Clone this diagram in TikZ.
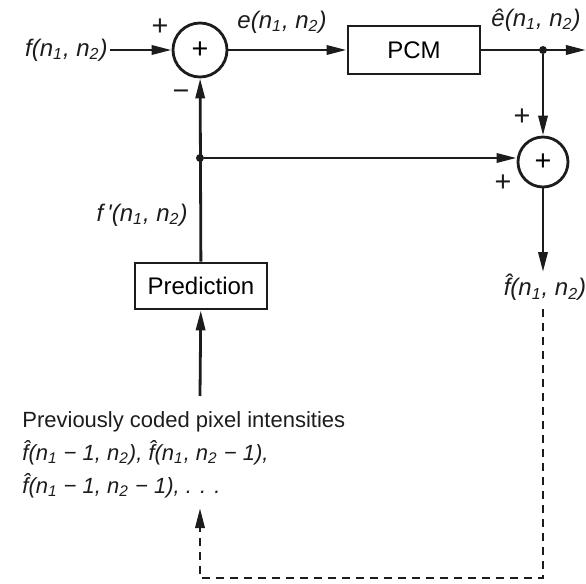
\documentclass[tikz,border=0pt]{standalone}
\usepackage{fontspec}
\setmainfont{Liberation Sans}
\usepackage{tikz}
\usetikzlibrary{arrows.meta,positioning,calc}
\definecolor{ink}{HTML}{1C1C1C}
\newcommand{\sig}[1]{\textit{#1(n\textsubscript{1}, n\textsubscript{2})}}
\tikzset{
  >={Triangle[length=10pt,width=4.6pt]},
  sumnode/.style={circle,draw=ink,line width=1.4pt,inner sep=0pt,minimum size=27pt,font=\Large},
  block/.style={draw=ink,line width=1.4pt,inner sep=0pt,minimum height=24pt,font=\large},
  flow/.style={->,line width=1.4pt,color=ink},
  feedback/.style={->,line width=1.4pt,color=ink,dash pattern=on 4pt off 3pt},
  sigtext/.style={inner sep=1pt,text=ink,font=\large},
  signmark/.style={inner sep=0pt,font=\Large,text=ink},
  junction/.style={circle,fill=ink,minimum size=4pt,inner sep=0pt},
}

\begin{document}
\begin{tikzpicture}[x=.5pt,y=-.5pt]
  \useasboundingbox (0,0) rectangle (586,584);

  % forward path
  \node[sigtext,anchor=east] (fin) at (110,50) {\sig{f}};
  \node[sumnode] (sumA) at (200,50) {+};
  \node[block,minimum width=66pt] (pcm) at (414,50) {PCM};
  \node[junction] (jout) at (543,50) {};
  \coordinate (eout) at (586,50);
  \node[sumnode,minimum size=25pt] (sumB) at (543,162) {+};
  \node[sigtext,anchor=north] (fhat) at (545,272) {\sig{\^{f}}};

  % prediction loop
  \node[junction] (jfb) at (200,158) {};
  \node[block,minimum width=66pt,minimum height=23pt] (pred) at (201,286) {Prediction};
  \node[anchor=north west,align=left,inner sep=0pt,text=ink,font=\fontsize{11}{16.5}\selectfont] (prev) at (22,411)
    {Previously coded pixel intensities\\
     \textit{\^{f}(n\textsubscript{1} − 1, n\textsubscript{2}), \^{f}(n\textsubscript{1}, n\textsubscript{2} − 1),}\\
     \textit{\^{f}(n\textsubscript{1} − 1, n\textsubscript{2} − 1), . . .}};
  \coordinate (ptop) at (200,396);
  \coordinate (pbot) at (200,508);
  \coordinate (dl) at (200,578);
  \coordinate (dr) at (543,578);

  % labels and signs
  \node[sigtext] (elab) at (282,22) {\sig{e}};
  \node[sigtext] (ehat) at (536,20) {\sig{\^{e}}};
  \node[sigtext,anchor=east] (fprime) at (190,215) {\sig{f\,\textquotesingle}};
  \node[signmark] at (160,27) {+};
  \node[signmark] at (181,95) {−};
  \node[signmark] at (522,117) {+};
  \node[signmark] at (503,183) {+};

  % connectors
  \draw[flow] (fin) -- (sumA);
  \draw[flow] (sumA) -- (pcm);
  \draw[flow] (pcm) -- (eout);
  \draw[flow] (jout) -- (sumB);
  \draw[flow] (jfb) -- (jfb -| sumB.west);
  \draw[flow] (sumB) -- (sumB |- fhat.north);
  \draw[flow] (pred) -- (sumA);
  \draw[flow] (ptop) -- (pred);
  \draw[feedback] (sumB |- fhat.south) ++(0,6) |- (dl) -- (pbot);
\end{tikzpicture}
\end{document}
